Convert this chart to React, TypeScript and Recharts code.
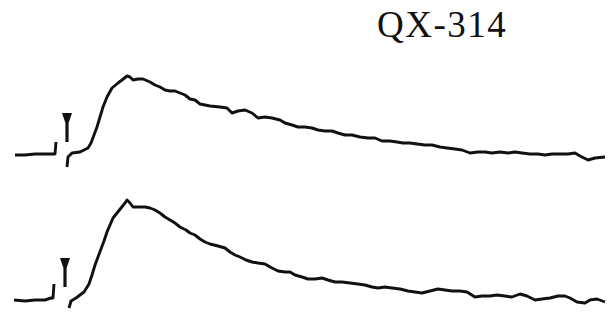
import { ComposedChart, Line, Scatter, XAxis, YAxis } from 'recharts'

// time relative to stimulus (arbitrary ms), amplitude above each trace's baseline
const topPreT = [-47, -37, -27, -17, -7, -6]
const topPreV = [-1, -1, 0, 0, 0, 12]
const topT = [
  5, 6, 10, 18, 26, 29, 32, 35, 38, 41, 45, 50, 56, 60, 65, 68, 71, 76, 81, 88, 93, 98, 103, 108,
  113, 118, 123, 128, 133, 138, 148, 158, 165, 170, 176, 183, 190, 196, 203, 210, 218, 223, 230,
  236, 243, 250, 256, 263, 270, 276, 283, 290, 298, 306, 313, 320, 328, 335, 341, 348, 355, 363,
  370, 378, 385, 393, 400, 408, 416, 423, 430, 438, 446, 453, 460, 468, 476, 483, 490, 498, 506,
  513, 518, 526, 533, 543,
]
const topV = [
  -13, -3, 1, 2, 6, 11, 19, 27, 37, 47, 57, 66, 71, 74, 78, 77, 74, 75, 75, 72, 69, 67, 64, 63,
  63, 61, 59, 55, 54, 50, 48, 47, 46, 41, 43, 44, 41, 36, 37, 36, 34, 31, 29, 27, 27, 26, 24, 23,
  23, 21, 19, 19, 17, 16, 16, 13, 13, 12, 11, 11, 10, 9, 9, 7, 6, 5, 4, 1, 2, 2, 1, 2, 1, 2, 1, 0,
  0, -1, 0, 0, 0, 1, -2, -6, -4, -3,
]

const botPreT = [-48, -37, -27, -17, -11, -9, -8]
const botPreV = [0, -1, 0, 0, 2, 2, 16]
const botT = [
  7, 9, 14, 22, 27, 30, 33, 36, 39, 42, 45, 48, 51, 55, 59, 63, 65, 68, 71, 76, 83, 88, 93, 98,
  103, 108, 113, 118, 124, 128, 133, 138, 143, 148, 156, 163, 168, 173, 178, 184, 190, 196, 203,
  210, 216, 223, 228, 233, 240, 246, 253, 260, 266, 273, 280, 288, 296, 303, 310, 316, 323, 330,
  338, 346, 353, 360, 368, 376, 383, 390, 398, 405, 413, 420, 428, 435, 443, 450, 458, 465, 473,
  480, 488, 496, 503, 508, 515, 523, 528, 535, 543,
]
const botV = [
  -8, -1, 2, 8, 16, 25, 35, 43, 51, 59, 68, 75, 82, 87, 92, 97, 100, 97, 93, 93, 93, 92, 90, 87,
  83, 80, 77, 73, 70, 67, 65, 61, 58, 56, 54, 52, 48, 45, 43, 40, 38, 37, 36, 32, 29, 28, 28, 25,
  23, 21, 21, 22, 20, 18, 18, 17, 16, 15, 13, 12, 13, 12, 11, 9, 8, 7, 9, 11, 10, 9, 9, 8, 3, 4, 4,
  5, 4, 3, 6, 4, 0, 1, 2, 4, 4, 2, -2, -3, 0, 1, -2,
]

// stimulus markers (time, amplitude of arrow head)
const topStimT = [5]
const topStimV = [41]
const botStimT = [3]
const botStimV = [42]

const toPoints = (t: number[], v: number[]) => t.map((x, i) => ({ t: x, v: v[i] }))

const Arrow = (props: any) => {
  const { cx, cy } = props
  if (cx == null || cy == null) return null
  const d = `M${cx - 5},${cy} L${cx + 5},${cy} L${cx + 1.6},${cy + 10} L${cx + 1.6},${cy + 29} L${cx - 1.6},${cy + 29} L${cx - 1.6},${cy + 10} Z`
  return <path d={d} fill="#111" />
}

const lineProps = {
  dataKey: 'v',
  stroke: '#111',
  strokeWidth: 2.9,
  strokeLinejoin: 'round' as const,
  dot: false,
  activeDot: false,
  isAnimationActive: false,
}

export default function App() {
  return (
    <div style={{ position: 'absolute', left: 0, top: 0, background: '#fff' }}>
      <ComposedChart width={613} height={324} margin={{ top: 0, right: 0, bottom: 0, left: 0 }}>
        <XAxis dataKey="t" type="number" domain={[-62, 551]} hide allowDataOverflow />
        <YAxis yAxisId="top" dataKey="v" type="number" domain={[-170, 154]} hide allowDataOverflow />
        <YAxis yAxisId="bot" dataKey="v" type="number" domain={[-24, 300]} hide allowDataOverflow />
        <Line yAxisId="top" data={toPoints(topPreT, topPreV)} {...lineProps} />
        <Line yAxisId="top" data={toPoints(topT, topV)} {...lineProps} />
        <Line yAxisId="bot" data={toPoints(botPreT, botPreV)} {...lineProps} />
        <Line yAxisId="bot" data={toPoints(botT, botV)} {...lineProps} />
        <Scatter yAxisId="top" data={toPoints(topStimT, topStimV)} dataKey="v" shape={Arrow} isAnimationActive={false} />
        <Scatter yAxisId="bot" data={toPoints(botStimT, botStimV)} dataKey="v" shape={Arrow} isAnimationActive={false} />
        <text x={377} y={37} fontFamily="Liberation Serif, serif" fontSize={37} letterSpacing={1.5} fill="#111">
          QX-314
        </text>
      </ComposedChart>
    </div>
  )
}
